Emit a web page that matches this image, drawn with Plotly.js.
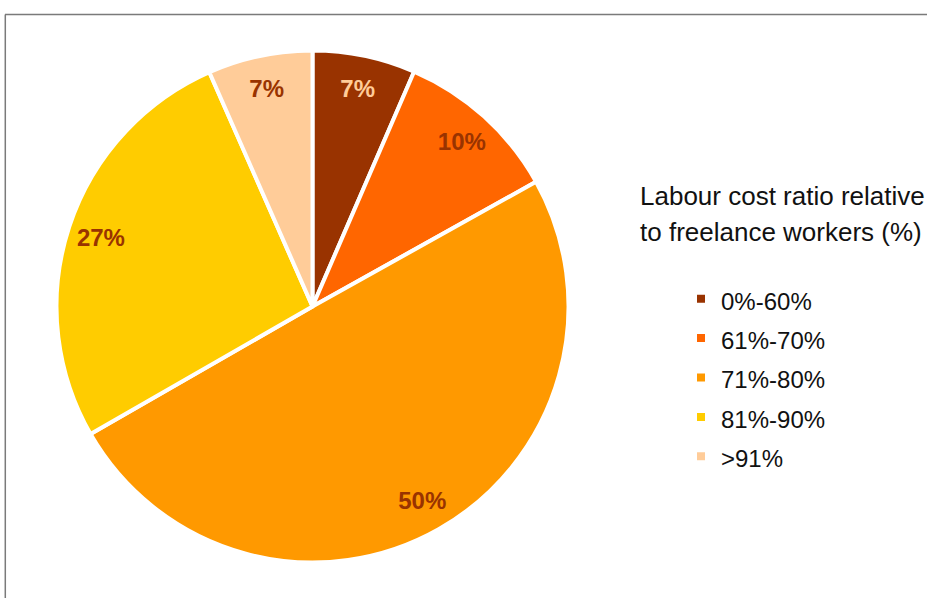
<!DOCTYPE html>
<html>
<head>
<meta charset="utf-8">
<script src="https://cdn.plot.ly/plotly-3.0.1.min.js"></script>
<style>
  html, body { margin: 0; padding: 0; background: #ffffff; }
  #chart { width: 927px; height: 598px; }
</style>
</head>
<body>
<div id="chart"></div>
<script>
// ---- data ----
const categories = ['0%-60%', '61%-70%', '71%-80%', '81%-90%', '>91%'];
const shares = [6.5, 10.4, 49.8, 26.7, 6.6];
const shareLabels = ['7%', '10%', '50%', '27%', '7%'];
const sliceColors = ['#993300', '#FF6600', '#FF9900', '#FFCC00', '#FFCC99'];
const labelColors = ['#FFCC99', '#993300', '#993300', '#993300', '#993300'];
const legendTitleLines = ['Labour cost ratio relative', 'to freelance workers (%)'];

const W = 927, H = 598;
const px = x => x / W;
const py = y => 1 - y / H;

const cx = 312.5, cy = 306.5, R = 256;
const dom = { x: [px(cx - R), px(cx + R)], y: [py(cy + R), py(cy - R)] };

const legendNames = categories.map(c => '<span style="font-size:24px">' + c + '</span>');

const pie = {
  type: 'pie',
  labels: legendNames,
  values: shares,
  sort: false,
  direction: 'clockwise',
  rotation: 0,
  domain: dom,
  marker: { colors: sliceColors, line: { color: '#ffffff', width: 4 } },
  textinfo: 'none',
  hoverinfo: 'skip',
  showlegend: true
};

const textRing = {
  type: 'pie',
  labels: legendNames,
  values: shares,
  sort: false,
  direction: 'clockwise',
  rotation: 0,
  domain: dom,
  hole: 0.74,
  marker: { colors: sliceColors.map(() => 'rgba(0,0,0,0)'), line: { width: 0 } },
  text: shareLabels,
  textinfo: 'text',
  textposition: 'inside',
  insidetextorientation: 'horizontal',
  insidetextfont: { family: 'Liberation Sans, Arial, sans-serif', size: 24, color: labelColors, weight: 'bold' },
  hoverinfo: 'skip',
  showlegend: false
};

const layout = {
  width: W,
  height: H,
  margin: { l: 0, r: 0, t: 0, b: 0 },
  paper_bgcolor: '#ffffff',
  plot_bgcolor: '#ffffff',
  font: { family: 'Liberation Sans, Arial, sans-serif', color: '#111111' },
  showlegend: true,
  legend: {
    x: px(681), y: py(274), xanchor: 'left', yanchor: 'top',
    bgcolor: 'rgba(0,0,0,0)',
    font: { size: 28, color: '#111111' },
    traceorder: 'normal'
  },
  annotations: [
    { text: legendTitleLines[0], xref: 'paper', yref: 'paper', x: px(638), y: py(196), xanchor: 'left', yanchor: 'middle', showarrow: false, font: { size: 26, color: '#111111' } },
    { text: legendTitleLines[1], xref: 'paper', yref: 'paper', x: px(638), y: py(231.5), xanchor: 'left', yanchor: 'middle', showarrow: false, font: { size: 26, color: '#111111' } }
  ],
  shapes: [
    { type: 'line', xref: 'paper', yref: 'paper', x0: px(5), x1: 1.01, y0: py(14.5), y1: py(14.5), line: { color: '#7a7a7a', width: 1.5 } },
    { type: 'line', xref: 'paper', yref: 'paper', x0: px(5.3), x1: px(5.3), y0: py(14.5), y1: -0.01, line: { color: '#7a7a7a', width: 1.5 } }
  ]
};

Plotly.newPlot('chart', [pie, textRing], layout, { displayModeBar: false, staticPlot: true });
</script>
</body>
</html>
